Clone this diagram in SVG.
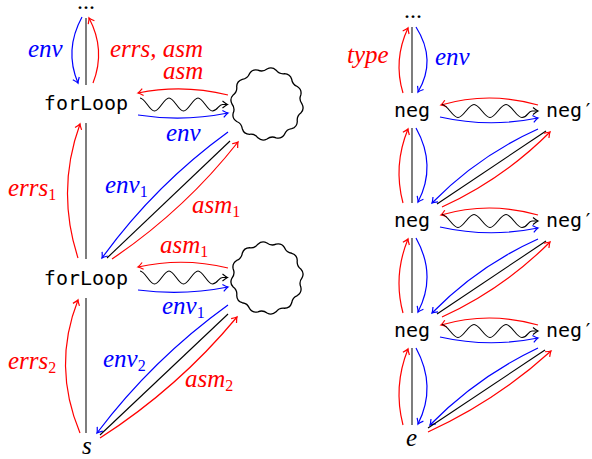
<svg xmlns="http://www.w3.org/2000/svg" xmlns:xlink="http://www.w3.org/1999/xlink" width="592" height="459" viewBox="0 0 592 459">
<style>
.gl{stroke:#707070;stroke-width:1.8;fill:none}
.r{stroke:#ff0000;stroke-width:1.2;fill:none}
.b{stroke:#0000ff;stroke-width:1.2;fill:none}
.k{stroke:#000;stroke-width:1.1;fill:none}
.ra{marker-end:url(#mr)}
.ba{marker-end:url(#mb)}
.ka{marker-end:url(#mk)}
.blob{stroke:#000;stroke-width:1.3;fill:none}
.lab{font-family:"Liberation Serif",serif;font-style:italic;font-size:25px}
.sub{font-size:16px;font-style:normal}
.red{fill:#ff0000}
.blue{fill:#0000ff}
.mono{font-family:"DejaVu Sans Mono",monospace;font-size:20px;fill:#000}
.dots{font-family:"Liberation Serif",serif;font-size:24px;fill:#000}
</style>
<defs>
<marker id="mr" viewBox="-7 -5 9 10" refX="0" refY="0" markerWidth="9" markerHeight="10" orient="auto" markerUnits="userSpaceOnUse"><path d="M-5,-3.5 Q-1.5,-0.6 0,0 Q-1.5,0.6 -5,3.5" fill="none" stroke="#ff0000" stroke-width="1.2"/></marker>
<marker id="mb" viewBox="-7 -5 9 10" refX="0" refY="0" markerWidth="9" markerHeight="10" orient="auto" markerUnits="userSpaceOnUse"><path d="M-5,-3.5 Q-1.5,-0.6 0,0 Q-1.5,0.6 -5,3.5" fill="none" stroke="#0000ff" stroke-width="1.2"/></marker>
<marker id="mk" viewBox="-7 -5 9 10" refX="0" refY="0" markerWidth="9" markerHeight="10" orient="auto" markerUnits="userSpaceOnUse"><path d="M-5,-3.5 Q-1.5,-0.6 0,0 Q-1.5,0.6 -5,3.5" fill="none" stroke="#000" stroke-width="1.1"/></marker>
<path id="blobshape" d="M302,104 Q304.7,109 300.8,113.1 Q296.6,116.3 297.3,121.5 Q297.1,127.1 291.7,128.7 Q286.5,129.4 284.5,134.3 Q281.6,139.1 276.1,137.8 Q271.2,135.7 267,139 Q262,141.7 257.9,137.8 Q254.8,133.6 249.5,134.3 Q243.9,134.1 242.3,128.7 Q241.6,123.5 236.7,121.5 Q231.9,118.6 233.2,113.1 Q235.3,108.2 232,104 Q229.3,99 233.2,94.9 Q237.4,91.8 236.7,86.5 Q236.9,80.9 242.3,79.3 Q247.5,78.6 249.5,73.7 Q252.5,68.9 257.9,70.2 Q262.8,72.3 267,69 Q272,66.3 276.1,70.2 Q279.3,74.4 284.5,73.7 Q290.1,73.9 291.7,79.3 Q292.4,84.5 297.3,86.5 Q302.1,89.5 300.8,94.9 Q298.7,99.8 302,104 Z"/>
<path id="waveL" d="M140,98 c5,0 9.5,13 14.5,13 s9.5,-13 14.5,-13 s9.5,13 14.5,13 s9.5,-13 14.5,-13 s9.5,13 14.5,13 s6,-6.5 10,-6.5 l5,0"/>
</defs>

<g id="connectors">
  <path class="gl" d="M86,18 V85 M86,123 V259 M86,298 V433"/>
  <path class="gl" d="M412,27 V93 M412,128 V203 M412,238 V313 M412,348 V425"/>

  <path class="b ba" d="M82,17 Q64,50 78,83"/>
  <path class="r ra" d="M93,83 Q106,50 89,18"/>
  <path class="r ra" d="M78,258 Q56,190 80,124"/>
  <path class="r ra" d="M80,433 Q52,366 78,300"/>

  <path class="r ra" d="M228,95 Q183,84 138,93"/>
  <use xlink:href="#waveL" href="#waveL" class="k ka"/>
  <path class="b ba" d="M138,115 Q183,122 228,113"/>
  <path class="r ra" d="M228,268 Q183,257 138,267"/>
  <path class="k ka" transform="translate(0,173)" d="M140,98 c5,0 9.5,13 14.5,13 s9.5,-13 14.5,-13 s9.5,13 14.5,13 s9.5,-13 14.5,-13 s9.5,13 14.5,13 s6,-6.5 10,-6.5 l5,0"/>
  <path class="b ba" d="M138,290 Q183,296 228,287"/>

  <path class="b ba" d="M228,132 Q155,185 102,258"/>
  <path class="k" d="M230,141 L107,258"/>
  <path class="r ra" d="M112,259 Q184.5,210 238,142"/>
  <path class="b ba" d="M228,305 Q153,359 97,433"/>
  <path class="k" d="M228,314 L100,435"/>
  <path class="r ra" d="M100,438 Q178,388 237,317"/>

  <path class="r ra" d="M403,93 Q393,60 408,28"/>
  <path class="b ba" d="M416,27 Q437,60 418,92"/>
  <path class="r ra" d="M403,203 Q393,165.5 408,129"/>
  <path class="b ba" d="M416,128 Q437,165.5 418,202"/>
  <path class="r ra" d="M403,313 Q393,275.5 408,239"/>
  <path class="b ba" d="M416,238 Q437,275.5 418,312"/>
  <path class="r ra" d="M403,425 Q393,386.5 408,349"/>
  <path class="b ba" d="M416,348 Q437,386.5 418,424"/>

  <path class="r ra" d="M538,105 Q489,91 441,105"/>
  <path class="k ka" d="M442,104.5 c5.5,0 10.5,13 16,13 s10.5,-13 16,-13 s10.5,13 16,13 s10.5,-13 16,-13 s10.5,13 16,13 s6,-6.5 10,-6.5 l6,0"/>
  <path class="b ba" d="M440,117 Q489,128 538,118"/>
  <path class="r ra" d="M538,215 Q489,201 441,215"/>
  <path class="k ka" transform="translate(0,110)" d="M442,104.5 c5.5,0 10.5,13 16,13 s10.5,-13 16,-13 s10.5,13 16,13 s10.5,-13 16,-13 s10.5,13 16,13 s6,-6.5 10,-6.5 l6,0"/>
  <path class="b ba" d="M440,227 Q489,238 538,228"/>
  <path class="r ra" d="M538,325 Q489,311 441,325"/>
  <path class="k ka" transform="translate(0,220)" d="M442,104.5 c5.5,0 10.5,13 16,13 s10.5,-13 16,-13 s10.5,13 16,13 s10.5,-13 16,-13 s10.5,13 16,13 s6,-6.5 10,-6.5 l6,0"/>
  <path class="b ba" d="M440,337 Q489,348 538,338"/>

  <path class="b ba" d="M538,129 Q478,156 432,203"/>
  <path class="k" d="M546,131 L437,204"/>
  <path class="r ra" d="M442,207 Q503,179 550,132"/>
  <path class="b ba" d="M538,239 Q478,266 432,313"/>
  <path class="k" d="M546,241 L437,314"/>
  <path class="r ra" d="M442,317 Q503,289 550,242"/>
  <path class="b ba" d="M538,348 Q477,377 430,425"/>
  <path class="k" d="M545,350 L428,428"/>
  <path class="r ra" d="M428,432 Q496,401 551,351"/>

  <text class="lab blue" x="28" y="57">env</text>
  <text class="lab red" x="110" y="57">errs, asm</text>
  <text class="lab red" x="163" y="79">asm</text>
  <text class="lab blue" x="166" y="141">env</text>
  <text class="lab blue" x="105" y="193">env<tspan class="sub" dy="4">1</tspan></text>
  <text class="lab red" x="192" y="213">asm<tspan class="sub" dy="4">1</tspan></text>
  <text class="lab red" x="8" y="196">errs<tspan class="sub" dy="4">1</tspan></text>
  <text class="lab red" x="160" y="253">asm<tspan class="sub" dy="4">1</tspan></text>
  <text class="lab blue" x="162" y="314">env<tspan class="sub" dy="4">1</tspan></text>
  <text class="lab blue" x="103" y="367">env<tspan class="sub" dy="4">2</tspan></text>
  <text class="lab red" x="185" y="387">asm<tspan class="sub" dy="4">2</tspan></text>
  <text class="lab red" x="8" y="369">errs<tspan class="sub" dy="4">2</tspan></text>
  <text class="lab red" x="347" y="63">type</text>
  <text class="lab blue" x="435" y="65">env</text>
</g>

<g id="dots-left"><text class="dots" x="86" y="9" text-anchor="middle">...</text></g>
<g id="forLoop1"><text class="mono" x="86" y="110" text-anchor="middle">forLoop</text></g>
<g id="forLoop2"><text class="mono" x="86" y="285" text-anchor="middle">forLoop</text></g>
<g id="s"><text class="lab" x="82" y="454">s</text></g>
<g id="blob1"><use xlink:href="#blobshape" href="#blobshape" class="blob"/></g>
<g id="blob2"><use xlink:href="#blobshape" href="#blobshape" class="blob" transform="translate(0,174) rotate(15,267,104)"/></g>

<g id="dots-right"><text class="dots" x="413" y="18" text-anchor="middle">...</text></g>
<g id="neg1"><text class="mono" x="412" y="117" text-anchor="middle">neg</text></g>
<g id="neg2"><text class="mono" x="412" y="227" text-anchor="middle">neg</text></g>
<g id="neg3"><text class="mono" x="412" y="337" text-anchor="middle">neg</text></g>
<g id="negp1"><text class="mono" x="546" y="117">neg′</text></g>
<g id="negp2"><text class="mono" x="546" y="227">neg′</text></g>
<g id="negp3"><text class="mono" x="546" y="337">neg′</text></g>
<g id="e"><text class="lab" x="406" y="446">e</text></g>
</svg>
